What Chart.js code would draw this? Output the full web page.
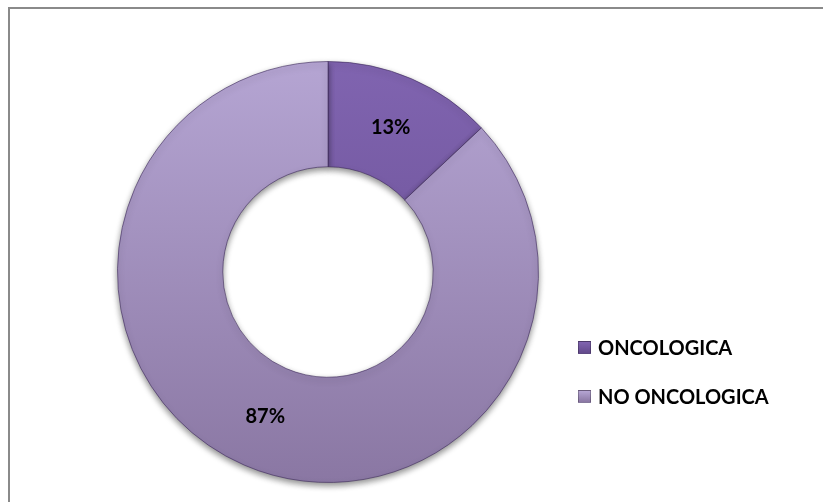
<!DOCTYPE html>
<html>
<head>
<meta charset="utf-8">
<script src="https://cdn.jsdelivr.net/npm/chart.js@4/dist/chart.umd.min.js"></script>
<style>
  html, body { margin: 0; padding: 0; background: #fff; overflow: hidden; }
  #wrap { position: relative; width: 823px; height: 502px; overflow: hidden; }
  #frame { position: absolute; left: 8px; top: 7px; width: 900px; height: 600px; border: 2px solid #8a8a8a; }
  #chart { position: absolute; left: 0; top: 0; }
  #legend { position: absolute; left: 578px; top: 334px; font: bold 20px Lato, sans-serif; color: #000; }
  #legend .item { display: flex; align-items: center; height: 26px; margin-bottom: 23px; }
  #legend .box { width: 13px; height: 13px; margin-right: 7px; box-sizing: border-box; border: 1px solid rgba(0,0,0,0.25); }
</style>
</head>
<body>
<div id="wrap">
  <div id="frame"></div>
  <canvas id="chart" width="823" height="502"></canvas>
  <div id="legend"></div>
</div>
<script>
  var categories = ['ONCOLOGICA', 'NO ONCOLOGICA'];
  var percentages = [13, 87];
  var topColors = ['#8064b0', '#b5a5d3'];
  var bottomColors = ['#634a8c', '#8a77a3'];

  function sliceFill(context) {
    var chart = context.chart;
    var area = chart.chartArea;
    var i = context.dataIndex;
    if (!area) return topColors[i];
    var g = chart.ctx.createLinearGradient(0, area.top, 0, area.bottom);
    g.addColorStop(0, topColors[i]);
    g.addColorStop(1, bottomColors[i]);
    return g;
  }

  // soft drop shadow under the ring
  var shadowPlugin = {
    id: 'ringShadow',
    beforeDatasetsDraw: function (chart) {
      var ctx = chart.ctx;
      ctx.save();
      ctx.shadowColor = 'rgba(0,0,0,0.45)';
      ctx.shadowBlur = 6;
      ctx.shadowOffsetX = 0;
      ctx.shadowOffsetY = 3;
    },
    afterDatasetsDraw: function (chart) {
      chart.ctx.restore();
    }
  };

  // percentage text on each slice
  var valueLabels = {
    id: 'valueLabels',
    afterDraw: function (chart) {
      var ctx = chart.ctx;
      var meta = chart.getDatasetMeta(0);
      ctx.save();
      ctx.font = 'bold 20px Lato, sans-serif';
      ctx.fillStyle = '#000';
      ctx.textAlign = 'center';
      ctx.textBaseline = 'middle';
      meta.data.forEach(function (arc, i) {
        var p = arc.tooltipPosition();
        ctx.fillText(percentages[i] + '%', p.x, p.y);
      });
      ctx.restore();
    }
  };

  new Chart(document.getElementById('chart'), {
    type: 'doughnut',
    data: {
      labels: categories,
      datasets: [{
        data: percentages,
        backgroundColor: sliceFill,
        borderColor: 'rgba(60,40,90,0.6)',
        borderWidth: 1
      }]
    },
    options: {
      responsive: false,
      animation: false,
      cutout: '50%',
      layout: { padding: { top: 61, bottom: 19, left: 117, right: 284 } },
      plugins: {
        legend: { display: false },
        tooltip: { enabled: false }
      }
    },
    plugins: [shadowPlugin, valueLabels]
  });

  var legend = document.getElementById('legend');
  categories.forEach(function (name, i) {
    var item = document.createElement('div');
    item.className = 'item';
    var box = document.createElement('span');
    box.className = 'box';
    box.style.background = 'linear-gradient(' + topColors[i] + ',' + bottomColors[i] + ')';
    item.appendChild(box);
    item.appendChild(document.createTextNode(name));
    legend.appendChild(item);
  });
</script>
</body>
</html>
